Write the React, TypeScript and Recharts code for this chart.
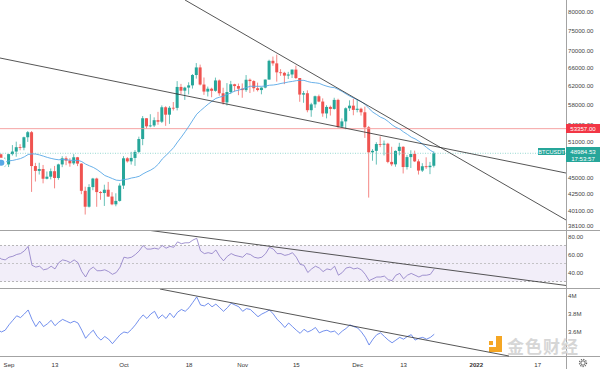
import React from 'react';
import {
  ComposedChart, Bar, Line, XAxis, YAxis, ReferenceLine, ReferenceArea
} from 'recharts';

// daily candles, Aug 29 .. Dec 21 2021 (day 0 = Sep 1)
const opens = [
  48900, 48810, 46990,
  47130, 48840, 49280, 50030, 49940, 51790, 52700, 46860, 46080, 46380, 44840, 45160, 46030, 44960, 47130,
  48140, 47760, 47300, 48310, 47260, 43000, 40690, 43560, 44870, 42810, 42670, 43160, 42150, 41030, 41520,
  43790, 48140, 47630, 48200, 49220, 51470, 55320, 53790, 53950, 54950, 54660, 57470, 56010, 57370, 57350,
  61670, 60880, 61530, 62010, 64280, 66000, 62190, 60690, 61290, 60850, 63080, 60330, 58450, 60590, 62250, 61860,
  61300, 61000, 63230, 62940, 61400, 61010, 61530, 63270, 67530, 66930, 64880, 64770, 64150, 64400, 65500,
  63610, 60060, 60340, 56890, 58050, 59710, 58620, 56250, 57540, 57140, 58960, 53730, 54720, 57270, 57790,
  56950, 57180, 56480, 53600, 49150, 49400, 50580, 50470, 50640, 47540, 47140, 49390, 50100, 46700, 48340,
  48860, 47630, 46130, 46830, 46680, 46910,
];
const highs = [
  49630, 48930, 48250,
  48900, 50400, 51000, 50560, 51900, 52920, 52920, 47380, 47400, 47040, 45980, 46460, 46880, 47250, 48490,
  48480, 48160, 48840, 48370, 47330, 43620, 44000, 44980, 45000, 42960, 43920, 44350, 42790, 42630, 44130,
  48500, 48330, 49230, 49530, 51890, 55750, 55330, 56100, 55490, 56560, 57840, 57680, 57700, 58530, 62930,
  62330, 61720, 62680, 64490, 67000, 66640, 63730, 61750, 61500, 63710, 63290, 61500, 62500, 62980, 62360, 62400,
  62430, 64270, 63500, 63120, 62600, 61600, 63290, 67790, 68530, 69000, 65600, 65000, 64990, 65500, 66400,
  63620, 60800, 60950, 58370, 59850, 60050, 59270, 57880, 57800, 59400, 59200, 55300, 57450, 58870, 59180,
  59040, 57390, 57600, 53860, 49700, 50900, 51940, 51200, 50800, 50100, 49480, 50800, 50200, 48700, 49500,
  49440, 47980, 47330, 48300, 47540, 49300,
];
const lows = [
  48450, 46900, 46700,
  46700, 48600, 48400, 49500, 49500, 50950, 42840, 44410, 45500, 44130, 44750, 44740, 43370, 44680, 46680,
  47000, 46750, 47050, 46850, 42500, 39600, 40570, 43090, 40680, 41680, 40800, 42100, 40900, 40750, 41420,
  43280, 47430, 47100, 46890, 49000, 50380, 53360, 53610, 53660, 54090, 54410, 53880, 54250, 56820, 56850,
  60150, 58960, 60100, 61320, 63480, 62000, 60000, 59670, 59510, 60650, 59820, 58000, 57820, 60170, 60720, 59940,
  59400, 60620, 60380, 60680, 60720, 60120, 61380, 63270, 66380, 62820, 64100, 62280, 63390, 63620, 63400,
  58570, 58370, 56470, 55600, 57350, 58490, 55610, 55300, 55840, 57000, 53500, 53610, 53250, 56730, 55900,
  56460, 55840, 51680, 42000, 47730, 47100, 50040, 48620, 47320, 46850, 46750, 48640, 45670, 46290, 46550,
  47520, 45500, 45900, 46400, 45560, 46630,
];
const closes = [
  48810, 46990, 47130,
  48840, 49280, 50030, 49940, 51790, 52700, 46860, 46080, 46380, 44840, 45160, 46030, 44960, 47130, 48140,
  47760, 47300, 48310, 47260, 43000, 40690, 43560, 44870, 42810, 42670, 43160, 42150, 41030, 41520, 43790,
  48140, 47630, 48200, 49220, 51470, 55320, 53790, 53950, 54950, 54660, 57470, 56010, 57370, 57350, 61670,
  60880, 61530, 62010, 64280, 66000, 62190, 60690, 61290, 60850, 63080, 60330, 58450, 60590, 62250, 61860, 61300,
  61000, 63230, 62940, 61400, 61010, 61530, 63270, 67530, 66930, 64880, 64770, 64150, 64400, 65500, 63610,
  60060, 60340, 56890, 58050, 59710, 58620, 56250, 57540, 57140, 58960, 53730, 54720, 57270, 57790, 56950,
  57180, 56480, 53600, 49150, 49400, 50580, 50470, 50640, 47540, 47140, 49390, 50100, 46700, 48340, 48860,
  47630, 46130, 46830, 46680, 46910, 48985,
];
const ma20 = [
  47350, 47420, 47500,
  47720, 47790, 47940, 48090, 48380, 48780, 48880, 48850, 48700, 48500, 48290, 48120, 47980, 47890, 47950,
  47890, 47810, 47780, 47800, 47590, 47180, 46900, 46640, 46280, 45830, 45350, 45110, 44860, 44620, 44570,
  44710, 44790, 44960, 45060, 45230, 45610, 45930, 46210, 46600, 47180, 48020, 48640, 49270, 49990, 50940,
  51830, 52800, 53850, 54990, 56100, 56800, 57450, 58110, 58690, 59270, 59520, 59750, 60080, 60450, 60810, 61000,
  61250, 61540, 61820, 61810, 61810, 61810, 61880, 62040, 62090, 62220, 62430, 62570, 62750, 62870, 63030,
  63110, 63100, 62830, 62640, 62560, 62440, 62090, 61820, 61610, 61510, 61120, 60690, 60180, 59720, 59320,
  58940, 58560, 58020, 57200, 56490, 56020, 55520, 55210, 54690, 54060, 53600, 53290, 52750, 52310, 51800,
  51500, 51070, 50550, 49990, 49490, 49080,
];
const rsi = [
  58, 55, 54,
  57, 58, 60, 61, 64, 69, 48, 46, 47, 43, 44, 47, 44, 51, 54,
  53, 51, 54, 51, 41, 35, 43, 46, 42, 42, 43, 41, 38, 40, 46,
  57, 56, 57, 60, 64, 70, 66, 66, 67, 66, 70, 67, 69, 68, 74,
  72, 73, 73, 76, 78, 64, 61, 62, 61, 65, 58, 53, 58, 61, 59, 58,
  57, 61, 60, 57, 56, 57, 61, 68, 66, 61, 61, 59, 60, 62, 57,
  49, 48, 40, 44, 47, 45, 41, 44, 43, 47, 37, 40, 45, 46, 44,
  45, 43, 38, 31, 33, 35, 35, 36, 32, 31, 37, 39, 33, 37, 39,
  37, 35, 37, 37, 38, 44,
];
// lower pane line, in thousands
const volLine = [
  3630, 3600, 3620,
  3680, 3730, 3780, 3760, 3800, 3845, 3740, 3660, 3720, 3660, 3690, 3730, 3670, 3710, 3740,
  3720, 3700, 3720, 3700, 3620, 3530, 3580, 3620, 3550, 3510, 3550, 3520, 3470, 3520, 3570,
  3600, 3590, 3630, 3680, 3740, 3790, 3750, 3800, 3830, 3750, 3790, 3750, 3810, 3760, 3820,
  3850, 3830, 3870, 3930, 3990, 3900, 3890, 3920, 3880, 3910, 3870, 3830, 3870, 3920, 3900, 3880,
  3830, 3860, 3850, 3810, 3770, 3800, 3820, 3845, 3800, 3740, 3700, 3650, 3700, 3660, 3620,
  3585, 3630, 3600, 3620, 3650, 3590, 3610, 3620, 3600, 3610, 3570, 3610, 3640, 3680, 3660,
  3645, 3600, 3540, 3455, 3520, 3570, 3590, 3550, 3510, 3480, 3510, 3540, 3520, 3550, 3570,
  3510, 3530, 3540, 3520, 3540, 3575,
];

const priceTicks = [80000, 75000, 70000, 66000, 62000, 58000, 54000, 51000, 45000, 42500, 40100, 38100];
const rsiTicks = [40, 60, 80];
const volTicks = [3600, 3800, 4000];
const timeTicks = [0, 12, 30, 47, 61, 75, 91, 103, 122, 138];
const timeLabels = ['Sep', '13', 'Oct', '18', 'Nov', '15', 'Dec', '13', '2022', '17'];

const resistance = 53357;
const lastPrice = 48984.53;

const data = closes.map((c, i) => ({
  day: i - 3,
  open: opens[i], high: highs[i], low: lows[i], close: c,
  range: [lows[i], highs[i]],
  ma: ma20[i], rsi: rsi[i], vol: volLine[i],
}));

const X_DOMAIN: [number, number] = [-2.35, 145.4];
const AXIS_W = 34;
const FONT = '"Liberation Sans", Arial, sans-serif';
const AX = { fontSize: 6.1, fill: '#444', fontFamily: FONT };
const UP = '#26a69a';
const DOWN = '#ef5350';
const SEP = '#a3a3a3';

const Candle = (p: any) => {
  const { x, y, width, height, payload } = p;
  if (height == null || !payload) return null;
  const { open, close, high, low } = payload;
  const lh = Math.log(high);
  const span = lh - Math.log(low);
  const py = (v: number) => y + (height * (lh - Math.log(v))) / span;
  const color = close >= open ? UP : DOWN;
  const top = py(Math.max(open, close));
  const bot = py(Math.min(open, close));
  const cx = x + width / 2;
  return (
    <g>
      <line x1={cx} x2={cx} y1={y} y2={y + height} stroke={color} strokeWidth={0.7} />
      <rect x={x} y={top} width={width} height={Math.max(bot - top, 0.8)} fill={color} />
    </g>
  );
};

const TimeTick = (p: any) => {
  const i = timeTicks.indexOf(p.payload.value);
  const lbl = timeLabels[i];
  return (
    <text x={p.x} y={p.y + 9} textAnchor="middle" fontSize={6.1} fill="#333"
      fontFamily={FONT} fontWeight={lbl === '2022' ? 700 : 400}>{lbl}</text>
  );
};

const Box = ({ left, top, w, h, bg, fs = 6.1, children }: any) => (
  <div style={{
    position: 'absolute', left, top, width: w, height: h, background: bg, color: '#fff',
    fontSize: fs, lineHeight: '7px', fontFamily: FONT, textAlign: 'center', paddingTop: 1,
    boxSizing: 'border-box', whiteSpace: 'nowrap',
  }}>{children}</div>
);

const yAxisProps = {
  orientation: 'right' as const, width: AXIS_W, allowDataOverflow: true, interval: 0,
  tick: AX, tickLine: false, tickSize: 2, tickMargin: 0, axisLine: false,
};

export default function App() {
  return (
    <div style={{ position: 'absolute', left: 0, top: 0, width: 600, height: 369, background: '#fff', overflow: 'hidden', fontFamily: FONT }}>
      <div style={{ position: 'absolute', left: 0, top: 0 }}>
        <ComposedChart width={600} height={230} data={data} margin={{ top: 0, right: 0, bottom: 0, left: 0 }}>
          <XAxis dataKey="day" type="number" domain={X_DOMAIN} allowDataOverflow hide />
          <YAxis {...yAxisProps} scale="log" domain={[37530, 83404]} ticks={priceTicks}
            tickFormatter={(v: number) => v.toFixed(2)} />
          <ReferenceLine y={resistance} stroke="#f49a9a" strokeWidth={0.9} />
          <ReferenceLine y={lastPrice} stroke="#7fcfc6" strokeDasharray="1 1.5" strokeWidth={0.8} />
          <Bar dataKey="range" barSize={3} shape={Candle} isAnimationActive={false} />
          <Line dataKey="ma" stroke="#59a8e6" strokeWidth={0.9} dot={false} isAnimationActive={false} />
          <ReferenceLine segment={[{ x: -2.35, y: 68190 }, { x: 145.4, y: 45740 }]} stroke="#2b2b2b" strokeWidth={0.8} ifOverflow="visible" />
          <ReferenceLine segment={[{ x: 45.95, y: 83400 }, { x: 145.4, y: 38860 }]} stroke="#2b2b2b" strokeWidth={0.8} ifOverflow="visible" />
        </ComposedChart>
      </div>

      <div style={{ position: 'absolute', left: 0, top: 230 }}>
        <ComposedChart width={600} height={58} data={data} margin={{ top: 0, right: 0, bottom: 0, left: 0 }}>
          <XAxis dataKey="day" type="number" domain={X_DOMAIN} allowDataOverflow hide />
          <YAxis {...yAxisProps} domain={[22.8, 87.2]} ticks={rsiTicks}
            tickFormatter={(v: number) => v.toFixed(2)} />
          <ReferenceArea y1={30} y2={70} fill="#7e57c2" fillOpacity={0.1} stroke="none" />
          <ReferenceLine y={70} stroke="#9a9a9a" strokeDasharray="2 2" strokeWidth={0.7} />
          <ReferenceLine y={50} stroke="#b0b0b0" strokeDasharray="2 2" strokeWidth={0.7} />
          <ReferenceLine y={30} stroke="#9a9a9a" strokeDasharray="2 2" strokeWidth={0.7} />
          <Line dataKey="rsi" stroke="#8a78c4" strokeWidth={0.8} dot={false} isAnimationActive={false} />
          <ReferenceLine segment={[{ x: 35.95, y: 87.2 }, { x: 145.4, y: 25.6 }]} stroke="#2b2b2b" strokeWidth={0.8} ifOverflow="visible" />
        </ComposedChart>
      </div>

      {/* pane separators and price scale border */}
      <div style={{ position: 'absolute', left: 0, top: 230, width: 600, height: 1, background: SEP }} />
      <div style={{ position: 'absolute', left: 0, top: 288, width: 600, height: 1, background: SEP }} />
      <div style={{ position: 'absolute', left: 0, top: 356, width: 600, height: 1, background: SEP }} />
      <div style={{ position: 'absolute', left: 566, top: 0, width: 1, height: 369, background: SEP }} />

      {/* price labels */}
      <Box left={566} top={124} w={34} h={9} bg="#f23645">53357.00</Box>
      <Box left={566} top={147} w={34} h={15} bg={UP}>48984.53<br />17:53:57</Box>
      <Box left={538} top={148} w={27} h={7} bg={UP} fs={5.6}>BTCUSDT</Box>

      {/* gear */}
      <svg style={{ position: 'absolute', left: 577, top: 357 }} width={12} height={12}>
        <circle cx={6} cy={6} r={2.2} fill="none" stroke="#555" strokeWidth={0.9} />
        <circle cx={6} cy={6} r={3.6} fill="none" stroke="#555" strokeWidth={1.1} strokeDasharray="1.2 1.2" />
      </svg>

      {/* watermark */}
      <svg style={{ position: 'absolute', left: 484, top: 334 }} width={22} height={20}>
        <rect x={12} y={2} width={6} height={16} fill="#f5a623" />
        <rect x={5} y={13} width={13} height={5} fill="#f5a623" />
        <rect x={5} y={7} width={4} height={4} fill="#f5a623" />
      </svg>
      <div style={{
        position: 'absolute', left: 507, top: 336, fontSize: 17, fontWeight: 700, color: '#d6d6d6',
        fontFamily: '"Noto Sans CJK SC", sans-serif', letterSpacing: 1, lineHeight: '20px',
      }}>金色财经</div>

      {/* lower pane drawn last */}
      <div style={{ position: 'absolute', left: 0, top: 289 }}>
        <ComposedChart width={600} height={80} data={data} margin={{ top: 0, right: 0, bottom: 0, left: 0 }}>
          <XAxis dataKey="day" type="number" domain={X_DOMAIN} allowDataOverflow ticks={timeTicks}
            interval={0} tick={TimeTick} tickLine={false} tickSize={0} axisLine={false} height={13} />
          <YAxis orientation="right" width={AXIS_W} domain={[3333, 4078]} allowDataOverflow ticks={volTicks}
            interval={0} tick={{ fontSize: 6.1, fill: '#444' }} tickLine={false} tickSize={2} tickMargin={0}
            axisLine={false} tickFormatter={(v: number) => `${v / 1000}M`} />
          <Line dataKey="vol" stroke="#4f74e8" strokeWidth={0.8} dot={false} isAnimationActive={false} />
          <ReferenceLine segment={[{ x: 39.4, y: 4078 }, { x: 130.5, y: 3333 }]} stroke="#2b2b2b" strokeWidth={0.8} ifOverflow="visible" />
        </ComposedChart>
      </div>
    </div>
  );
}
